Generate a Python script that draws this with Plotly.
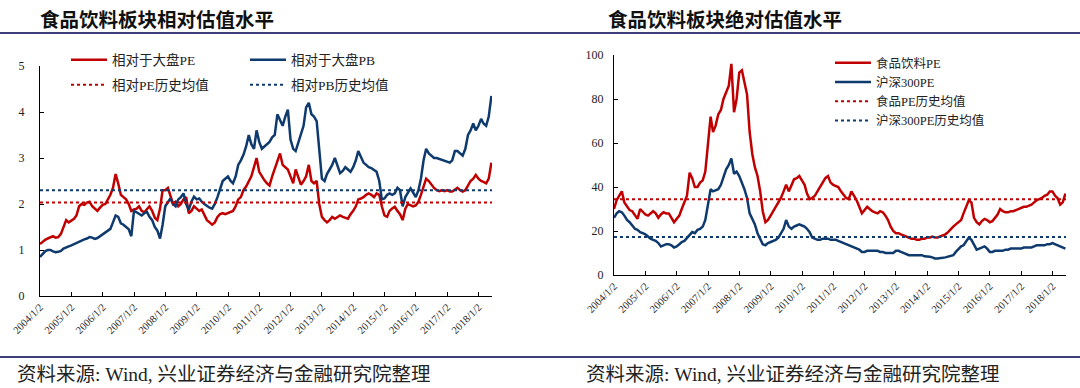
import plotly.graph_objects as go
import pandas as pd

# ---------------- data (monthly readings) ----------------
dates = pd.date_range("2004-01-01", periods=174, freq="MS")

rel_pe = [
    1.13, 1.18, 1.22, 1.25, 1.28, 1.30, 1.27, 1.28, 1.35, 1.50, 1.65, 1.60,
    1.65, 1.68, 1.75, 1.95, 2.00, 1.98, 2.03, 2.05, 1.95, 1.90, 1.85, 1.92,
    1.98, 2.00, 2.10, 2.20, 2.35, 2.65, 2.45, 2.20, 2.15, 2.10, 2.00, 1.85,
    1.88, 1.90, 1.95, 1.85, 1.82, 1.90, 1.95, 1.85, 1.70, 1.65, 1.90, 2.30,
    2.30, 2.35, 2.20, 2.00, 2.05, 1.95, 2.00, 2.10, 2.15, 1.80, 1.85, 1.95,
    1.90, 1.85, 1.88, 1.75, 1.65, 1.60, 1.55, 1.60, 1.72, 1.78, 1.80, 1.78,
    1.80, 1.82, 1.85, 1.95, 2.10, 2.15, 2.30, 2.38, 2.50, 2.60, 2.80, 3.00,
    2.70, 2.60, 2.52, 2.45, 2.40, 2.60, 2.75, 2.90, 3.10, 2.85, 2.80, 2.75,
    2.60, 2.45, 2.75, 2.60, 2.42, 2.50, 2.60, 2.85, 2.50, 2.45, 2.50, 2.00,
    1.72, 1.65, 1.60, 1.65, 1.72, 1.68, 1.72, 1.75, 1.72, 1.70, 1.68, 1.78,
    1.85, 1.95, 2.10, 2.12, 2.15, 2.20, 2.23, 2.20, 2.15, 2.23, 2.20, 1.95,
    1.75, 1.72, 1.85, 1.90, 1.94, 1.85, 1.78, 1.65, 1.90, 2.00, 1.97, 1.95,
    1.97, 2.05, 2.20, 2.40, 2.55, 2.50, 2.42, 2.35, 2.30, 2.28, 2.30, 2.28,
    2.30, 2.27, 2.27, 2.32, 2.35, 2.30, 2.27, 2.30, 2.40, 2.50, 2.55, 2.63,
    2.55, 2.50, 2.48, 2.45, 2.55, 2.90,
]

rel_pb = [
    0.85, 0.92, 0.97, 1.00, 1.00, 0.97, 0.95, 0.96, 0.98, 1.03, 1.06, 1.08,
    1.10, 1.13, 1.15, 1.18, 1.20, 1.23, 1.25, 1.28, 1.27, 1.24, 1.26, 1.30,
    1.35, 1.38, 1.42, 1.46, 1.60, 1.75, 1.72, 1.58, 1.55, 1.50, 1.45, 1.30,
    1.85, 1.82, 1.78, 1.75, 1.80, 1.83, 1.72, 1.65, 1.50, 1.42, 1.25, 1.55,
    1.95, 2.05, 2.12, 2.00, 1.95, 2.10, 2.15, 2.23, 2.00, 1.87, 2.05, 2.16,
    2.10, 2.12, 2.05, 2.00, 1.95, 1.92, 1.90, 2.00, 2.15, 2.30, 2.50, 2.55,
    2.60, 2.50, 2.45, 2.60, 2.85, 2.95, 3.07, 3.25, 3.50, 3.30, 3.20, 3.60,
    3.35, 3.20, 3.25, 3.30, 3.35, 3.45, 3.50, 3.95, 3.80, 3.70, 3.90, 4.05,
    3.40, 3.20, 3.15, 3.35, 3.55, 3.70, 4.10, 4.20, 3.95, 3.90, 3.80, 3.20,
    2.55, 2.50, 2.65, 2.75, 2.85, 3.00, 2.85, 2.67, 2.72, 2.80, 2.75, 2.70,
    2.80, 2.95, 3.15, 3.00, 2.90, 2.85, 2.80, 2.78, 2.74, 2.70, 2.50, 2.10,
    2.12, 2.20, 2.23, 2.20, 2.23, 2.35, 2.30, 1.95, 2.15, 2.25, 2.34, 2.25,
    2.15, 2.30, 2.55, 2.95, 3.20, 3.10, 3.05, 3.00, 3.00, 2.98, 2.96, 2.95,
    2.92, 2.90, 2.95, 3.15, 3.15, 3.10, 3.05, 3.20, 3.50, 3.60, 3.75, 3.60,
    3.70, 3.85, 3.75, 3.70, 3.90, 4.35,
]

food_pe = [
    30, 34, 36, 38, 33, 31, 29.5, 29, 27, 25.5, 30, 28.5,
    27.5, 27, 28, 29, 28, 26, 27.5, 28.5, 28, 28, 26, 24,
    25.5, 27, 30, 33, 36, 46.5, 44, 40, 40, 42, 43, 47,
    60, 72, 65, 68, 73, 75, 80, 83, 86, 96, 74, 80,
    92, 93, 87, 82, 65, 55, 49, 45, 38, 29, 24, 25,
    27, 29, 31, 33, 35, 38, 41, 38, 41, 43.5, 44, 45,
    43, 41, 37, 34.5, 35, 36, 38, 40, 42, 44, 45, 42,
    41, 40.5, 40, 38, 36.5, 35, 34.5, 38, 36, 34, 31, 28,
    29.5, 31, 30, 29, 28.5, 28, 29, 28.5, 27, 25, 22, 20,
    19, 19, 18.5, 18, 17.5, 17, 16.5, 16.5, 16, 16, 16.5, 16.5,
    17, 17, 17.5, 17, 17, 17.5, 18, 18.5, 19.5, 21, 22, 23,
    24, 25, 28, 31, 34, 33, 26, 24, 23, 24.5, 25.5, 25,
    24, 24.5, 26, 27.5, 30, 29, 28.5, 28.5, 29, 29, 29.5, 30,
    30.5, 31, 31, 31.5, 32, 33, 34, 34.5, 35, 36, 36.5, 38,
    38, 36, 35, 32, 33, 37,
]

hs300_pe = [
    26, 28, 29, 28.5, 27, 25, 24, 22.5, 21, 20.5, 19.5, 19,
    18.5, 17.5, 16.5, 16, 15.5, 14.5, 13, 13.5, 14, 14, 13.5, 12.5,
    13, 14, 15, 15.5, 17, 18.5, 19.5, 19, 20.5, 21, 22, 25,
    32, 39, 38, 38.5, 39, 41, 45, 48, 50, 53, 46, 47,
    45, 42, 39, 35, 28, 25.5, 23, 19, 16, 14, 13.5, 14.5,
    15, 15.5, 16, 17, 19, 21, 25, 22, 21, 22, 22.5, 23,
    22.5, 22, 21, 19.5, 17, 16.5, 16, 16, 16.5, 16.5, 16.5, 16,
    16, 16, 15.5, 15, 14.5, 14, 13.5, 13, 12.5, 12, 11.5, 10.5,
    10.5, 11, 11, 11, 11, 11, 10.5, 10.5, 10, 10, 10, 10,
    11, 11, 10.5, 10, 9.5, 9, 9, 9, 9, 9, 9, 8.5,
    8.5, 8.3, 8, 7.5, 7.5, 7.5, 7.8, 8, 8.3, 8.5, 9, 10.5,
    12, 13, 13.5, 15, 17, 16, 13.5, 11.5, 12, 12.5, 13, 12,
    10.5, 10.5, 11, 11, 11, 11, 11.5, 11.5, 12, 12, 12, 12,
    12, 12.5, 12.5, 12.5, 12.5, 13, 13.5, 13.5, 13.5, 13.5, 14, 14,
    14.5, 14, 13.5, 13, 12.5, 12,
]

rel_pe_avg = 2.03
rel_pb_avg = 2.30
food_pe_avg = 34.4
hs300_pe_avg = 17.3

tick_dates = [f"{y}-01-02" for y in range(2004, 2019)]
tick_text = [f"{y}/1/2" for y in range(2004, 2019)]

x_start, x_end = "2004-01-01", "2018-06-08"

RED = "#C00000"
BLUE = "#0E3A6E"
RULE = "#3E3E7A"
SERIF = "Liberation Serif, Noto Sans CJK SC, serif"
CJK = "Noto Sans CJK SC, sans-serif"

fig = go.Figure()

# ---- left chart ----
fig.add_trace(go.Scatter(x=dates, y=rel_pe, name="相对于大盘PE", mode="lines",
                         line=dict(color=RED, width=2.5), xaxis="x", yaxis="y", legend="legend"))
fig.add_trace(go.Scatter(x=dates, y=rel_pb, name="相对于大盘PB", mode="lines",
                         line=dict(color=BLUE, width=2.5), xaxis="x", yaxis="y", legend="legend"))
fig.add_trace(go.Scatter(x=[x_start, x_end], y=[rel_pe_avg, rel_pe_avg], name="相对PE历史均值", mode="lines",
                         line=dict(color=RED, width=2, dash="dot"), xaxis="x", yaxis="y", legend="legend3"))
fig.add_trace(go.Scatter(x=[x_start, x_end], y=[rel_pb_avg, rel_pb_avg], name="相对PB历史均值", mode="lines",
                         line=dict(color=BLUE, width=2, dash="dot"), xaxis="x", yaxis="y", legend="legend3"))

# ---- right chart ----
fig.add_trace(go.Scatter(x=dates, y=food_pe, name="食品饮料PE", mode="lines",
                         line=dict(color=RED, width=2.5), xaxis="x2", yaxis="y2", legend="legend2"))
fig.add_trace(go.Scatter(x=dates, y=hs300_pe, name="沪深300PE", mode="lines",
                         line=dict(color=BLUE, width=2.5), xaxis="x2", yaxis="y2", legend="legend2"))
fig.add_trace(go.Scatter(x=[x_start, x_end], y=[food_pe_avg, food_pe_avg], name="食品PE历史均值", mode="lines",
                         line=dict(color=RED, width=2, dash="dot"), xaxis="x2", yaxis="y2", legend="legend2"))
fig.add_trace(go.Scatter(x=[x_start, x_end], y=[hs300_pe_avg, hs300_pe_avg], name="沪深300PE历史均值", mode="lines",
                         line=dict(color=BLUE, width=2, dash="dot"), xaxis="x2", yaxis="y2", legend="legend2"))

W, H = 1080, 388

xcommon = dict(type="date", range=[x_start, x_end], tickmode="array", tickvals=tick_dates,
               ticktext=tick_text, tickangle=-45, ticks="inside", ticklen=4, tickcolor="#000",
               showline=True, linecolor="#000", linewidth=1, showgrid=False, zeroline=False,
               automargin=False,
               tickfont=dict(family=SERIF, size=10.5, color="#222"), fixedrange=True)
ycommon = dict(ticks="inside", ticklen=4, tickcolor="#000", showline=True, linecolor="#000",
               linewidth=1, showgrid=False, zeroline=False, automargin=False,
               tickfont=dict(family=SERIF, size=12, color="#222"), fixedrange=True)

legfont = dict(family=SERIF, size=13.5, color="#222")
legfont2 = dict(family=SERIF, size=12.5, color="#222")

fig.update_layout(
    width=W, height=H,
    margin=dict(l=0, r=0, t=0, b=0, pad=0, autoexpand=False),
    paper_bgcolor="white", plot_bgcolor="white",
    xaxis=dict(domain=[40 / W, 492 / W], anchor="y", **xcommon),
    yaxis=dict(domain=[1 - 296 / H, 1 - 66 / H], anchor="x", range=[0, 5], dtick=1,
               ticklabelstandoff=12, **ycommon),
    xaxis2=dict(domain=[614 / W, 1066 / W], anchor="y2", **xcommon),
    yaxis2=dict(domain=[1 - 275 / H, 1 - 55 / H], anchor="x2", range=[0, 100], dtick=20,
                ticklabelstandoff=7, **ycommon),
    legend=dict(orientation="h", x=66 / W, y=1 - 60 / H, xanchor="left", yanchor="middle",
                entrywidth=128, entrywidthmode="pixels", itemwidth=36, font=legfont,
                bgcolor="rgba(0,0,0,0)"),
    legend3=dict(orientation="h", x=66 / W, y=1 - 85 / H, xanchor="left", yanchor="middle",
                 entrywidth=128, entrywidthmode="pixels", itemwidth=36, font=legfont,
                 bgcolor="rgba(0,0,0,0)"),
    legend2=dict(orientation="v", x=830 / W, y=1 - 48 / H, xanchor="left", yanchor="top",
                 itemwidth=36, font=legfont2, bgcolor="rgba(0,0,0,0)", tracegroupgap=0),
    showlegend=True,
)

# titles and rules
fig.add_annotation(text="食品饮料板块相对估值水平", xref="paper", yref="paper", x=38 / W, y=1 - 18 / H,
                   xanchor="left", yanchor="middle", showarrow=False,
                   font=dict(family=CJK, size=19.5, color="#111", weight=600))
fig.add_annotation(text="食品饮料板块绝对估值水平", xref="paper", yref="paper", x=606 / W, y=1 - 18 / H,
                   xanchor="left", yanchor="middle", showarrow=False,
                   font=dict(family=CJK, size=19.5, color="#111", weight=600))
fig.add_shape(type="line", xref="paper", yref="paper", x0=0, x1=1, y0=1 - 33 / H, y1=1 - 33 / H,
              line=dict(color=RULE, width=2))
fig.add_shape(type="line", xref="paper", yref="paper", x0=0, x1=1, y0=1 - 357 / H, y1=1 - 357 / H,
              line=dict(color=RULE, width=2))

source = "资料来源: Wind, 兴业证券经济与金融研究院整理"
for xp in (15 / W, 584 / W):
    fig.add_annotation(text=source, xref="paper", yref="paper", x=xp, y=1 - 374 / H,
                       xanchor="left", yanchor="middle", showarrow=False,
                       font=dict(family=SERIF, size=19.5, color="#222"))

fig.write_html("out.html", config={"displayModeBar": False},
               post_script="document.body.style.margin='0';")
